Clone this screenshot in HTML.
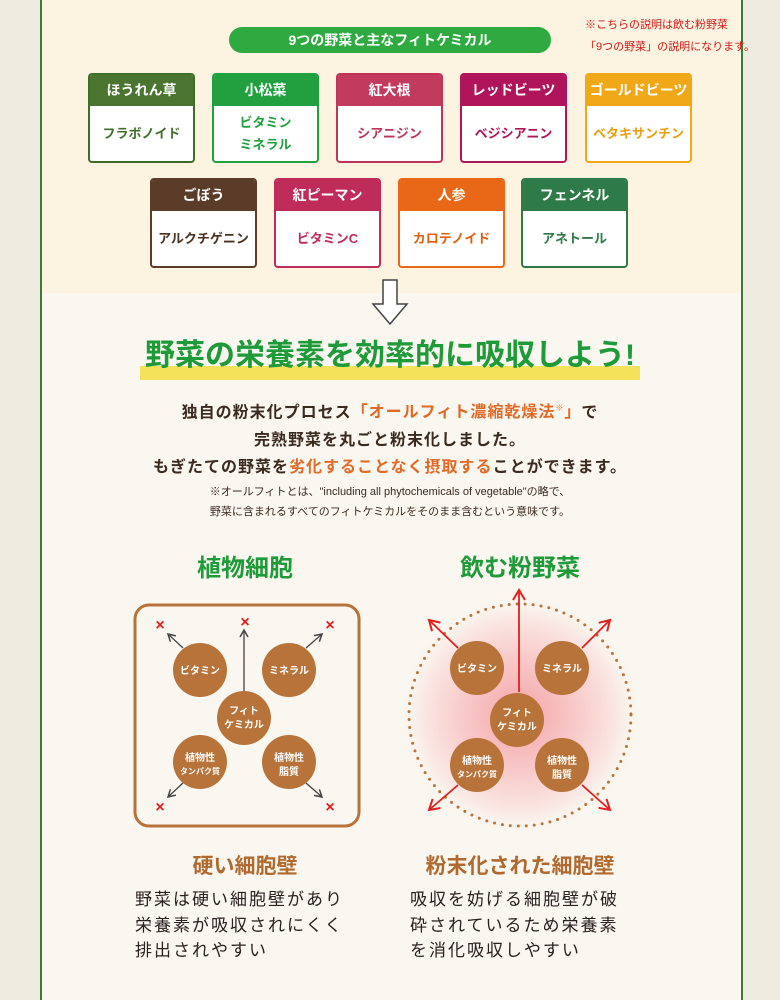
<!DOCTYPE html>
<html><head><meta charset="utf-8"><style>
body{margin:0;width:780px;height:1000px;background:#eeebe1;font-family:"Liberation Sans","Noto Sans CJK JP",sans-serif;position:relative;overflow:hidden}
.a{position:absolute}
.panel{left:40px;top:0;width:699px;height:1000px;border-left:2px solid #3f7a34;border-right:2px solid #3f7a34;background:#faf7f0}
.top{left:42px;top:0;width:697px;height:293px;background:#fcf3e0}
.card{position:absolute;border:2px solid;border-radius:4px;background:#fff;overflow:hidden;box-sizing:border-box;width:107px;height:90px}
.card .h{height:31px;line-height:31px;color:#fff;text-align:center;font-weight:bold;font-size:14px}
.card .b{height:55px;display:flex;align-items:center;justify-content:center;text-align:center;font-weight:bold;font-size:13px;line-height:22px}
.c{text-align:center;font-weight:bold}
</style></head><body>
<div class="a panel"></div>
<div class="a top"></div>
<div class="a" style="left:585px;top:14px;font-size:11px;color:#d01818;line-height:22px">※こちらの説明は飲む粉野菜<br>「9つの野菜」の説明になります。</div>
<div class="a c" style="left:229px;top:27px;width:322px;height:26px;border-radius:13px;background:#2eaa40;color:#fff;font-size:14px;line-height:26px">9つの野菜と主なフィトケミカル</div>

<div class="card" style="left:88px;top:73px;border-color:#3f6e2a"><div class="h" style="background:#4a7430">ほうれん草</div><div class="b" style="color:#3f6e2a">フラボノイド</div></div>
<div class="card" style="left:212px;top:73px;border-color:#21a040"><div class="h" style="background:#22a040">小松菜</div><div class="b" style="color:#21a040">ビタミン<br>ミネラル</div></div>
<div class="card" style="left:336px;top:73px;border-color:#c0345a"><div class="h" style="background:#c23a5e">紅大根</div><div class="b" style="color:#c0345a">シアニジン</div></div>
<div class="card" style="left:460px;top:73px;border-color:#b0145a"><div class="h" style="background:#b0145a">レッドビーツ</div><div class="b" style="color:#b0145a">ベジシアニン</div></div>
<div class="card" style="left:585px;top:73px;border-color:#f0a818"><div class="h" style="background:#f0a818">ゴールドビーツ</div><div class="b" style="color:#e8a010">ベタキサンチン</div></div>
<div class="card" style="left:150px;top:178px;border-color:#5a3c28"><div class="h" style="background:#5a3c28">ごぼう</div><div class="b" style="color:#4a3020">アルクチゲニン</div></div>
<div class="card" style="left:274px;top:178px;border-color:#c02c5a"><div class="h" style="background:#c02c5a">紅ピーマン</div><div class="b" style="color:#c02c5a">ビタミンC</div></div>
<div class="card" style="left:398px;top:178px;border-color:#e86818"><div class="h" style="background:#e86818">人参</div><div class="b" style="color:#e06010">カロテノイド</div></div>
<div class="card" style="left:521px;top:178px;border-color:#2e7a48"><div class="h" style="background:#2e7a48">フェンネル</div><div class="b" style="color:#2e7a48">アネトール</div></div>

<svg class="a" style="left:370px;top:278px" width="40" height="50"><path d="M13 2h14v24h10L20 46 3 26h10z" fill="#fff" stroke="#444" stroke-width="1.5"/></svg>

<div class="a" style="left:140px;top:366px;width:500px;height:14px;background:#f3e25a"></div>
<div class="a c" style="left:40px;top:336px;width:700px;font-size:30px;color:#1e9a38;line-height:40px">野菜の栄養素を効率的に吸収しよう!</div>
<div class="a c" style="left:40px;top:395px;width:700px;font-size:16px;color:#3a2a20;line-height:27.5px;letter-spacing:1px">独自の粉末化プロセス<span style="color:#e06a28">「オールフィト濃縮乾燥法<sup style="font-size:8px">※</sup>」</span>で<br>完熟野菜を丸ごと粉末化しました。<br>もぎたての野菜を<span style="color:#e06a28">劣化することなく摂取する</span>ことができます。</div>
<div class="a" style="left:40px;top:482px;width:700px;text-align:center;font-size:11px;color:#3a2a20;line-height:20px">※オールフィトとは、"including all phytochemicals of vegetable"の略で、<br>野菜に含まれるすべてのフィトケミカルをそのまま含むという意味です。</div>

<div class="a c" style="left:145px;top:548px;width:200px;font-size:24px;color:#1e9a38">植物細胞</div>
<div class="a c" style="left:420px;top:548px;width:200px;font-size:24px;color:#1e9a38">飲む粉野菜</div>

<svg class="a" style="left:0;top:0" width="780" height="1000" font-family="Liberation Sans,Noto Sans CJK JP,sans-serif" font-weight="bold">
<defs>
<radialGradient id="g"><stop offset="0" stop-color="#f5a4a8"/><stop offset="0.45" stop-color="#f8c8c8"/><stop offset="0.8" stop-color="#fae8e4"/><stop offset="1" stop-color="#faf7f0" stop-opacity="0"/></radialGradient>
<marker id="ak" markerWidth="10" markerHeight="10" refX="8" refY="5" orient="auto" markerUnits="userSpaceOnUse"><path d="M1 1L8 5L1 9" fill="none" stroke="#444" stroke-width="1.5"/></marker>
<marker id="ar" markerWidth="14" markerHeight="14" refX="11" refY="7" orient="auto" markerUnits="userSpaceOnUse"><path d="M1 1L11 7L1 13" fill="none" stroke="#e02020" stroke-width="2"/></marker>
</defs>
<rect x="135" y="605" width="224" height="221" rx="14" fill="none" stroke="#b8733a" stroke-width="3"/>
<g stroke="#444" stroke-width="1.3" marker-end="url(#ak)">
<line x1="244" y1="692" x2="244" y2="630"/><line x1="183" y1="648" x2="168" y2="634"/><line x1="306" y1="648" x2="322" y2="634"/>
<line x1="183" y1="783" x2="168" y2="797"/><line x1="306" y1="783" x2="322" y2="797"/>
</g>
<g fill="#e02020" font-size="16" text-anchor="middle">
<text x="160" y="630">×</text><text x="245" y="627">×</text><text x="330" y="630">×</text><text x="160" y="812">×</text><text x="330" y="812">×</text>
</g>
<circle cx="520" cy="715" r="122" fill="url(#g)"/>
<circle cx="520" cy="715" r="111" fill="none" stroke="#b8733a" stroke-width="3" stroke-dasharray="0 8" stroke-linecap="round"/>
<g stroke="#e02020" stroke-width="1.8" marker-end="url(#ar)">
<line x1="519" y1="692" x2="519" y2="590"/><line x1="458" y1="648" x2="429" y2="620"/><line x1="582" y1="648" x2="610" y2="620"/>
<line x1="458" y1="785" x2="429" y2="810"/><line x1="582" y1="785" x2="610" y2="810"/>
</g>
<g fill="#b8733a">
<circle cx="200" cy="670" r="27"/><circle cx="289" cy="670" r="27"/><circle cx="244" cy="718" r="27"/><circle cx="200" cy="762" r="27"/><circle cx="289" cy="762" r="27"/>
<circle cx="477" cy="668" r="27"/><circle cx="562" cy="668" r="27"/><circle cx="517" cy="720" r="27"/><circle cx="477" cy="765" r="27"/><circle cx="562" cy="765" r="27"/>
</g>
<g fill="#fff" font-size="10" text-anchor="middle">
<text x="200" y="674">ビタミン</text><text x="289" y="674">ミネラル</text><text x="244" y="714">フィト</text><text x="244" y="728">ケミカル</text>
<text x="200" y="761">植物性</text><text x="200" y="774" font-size="8">タンパク質</text><text x="289" y="761">植物性</text><text x="289" y="775">脂質</text>
<text x="477" y="672">ビタミン</text><text x="562" y="672">ミネラル</text><text x="517" y="716">フィト</text><text x="517" y="730">ケミカル</text>
<text x="477" y="764">植物性</text><text x="477" y="777" font-size="8">タンパク質</text><text x="562" y="764">植物性</text><text x="562" y="778">脂質</text>
</g>
</svg>

<div class="a c" style="left:145px;top:850px;width:200px;font-size:21px;color:#b06a30">硬い細胞壁</div>
<div class="a c" style="left:400px;top:850px;width:240px;font-size:21px;color:#b06a30">粉末化された細胞壁</div>
<div class="a" style="left:135px;top:887px;font-size:17px;color:#2a2020;line-height:25.5px;letter-spacing:2px">野菜は硬い細胞壁があり<br>栄養素が吸収されにくく<br>排出されやすい</div>
<div class="a" style="left:410px;top:887px;font-size:17px;color:#2a2020;line-height:25.5px;letter-spacing:2px">吸収を妨げる細胞壁が破<br>砕されているため栄養素<br>を消化吸収しやすい</div>
</body></html>
